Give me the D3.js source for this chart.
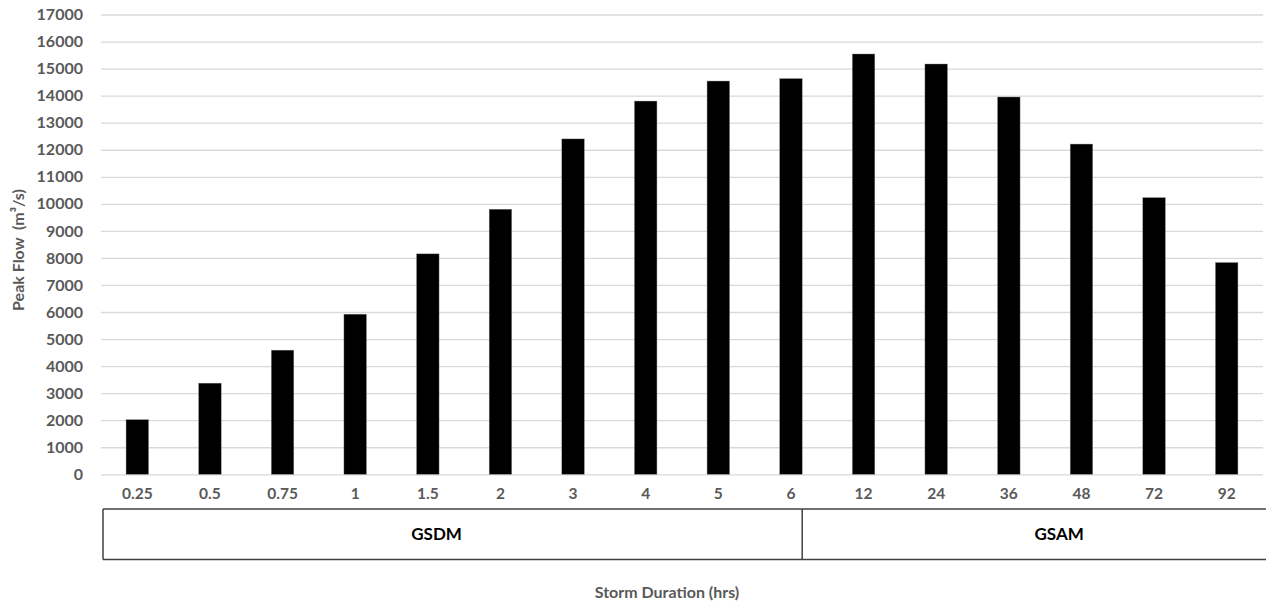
<!DOCTYPE html>
<html>
<head>
<meta charset="utf-8">
<script src="https://cdn.jsdelivr.net/npm/d3@7/dist/d3.min.js"></script>
<style>
  html, body { margin: 0; padding: 0; background: #fff; }
  svg { display: block; }
  text { font-family: Lato, "Open Sans", sans-serif; }
</style>
</head>
<body>
<svg id="chart" width="1266" height="601"></svg>
<script>
// ---- data ----
const categories = ["0.25","0.5","0.75","1","1.5","2","3","4","5","6","12","24","36","48","72","92"];
const peakFlow   = [2020, 3370, 4590, 5920, 8150, 9800, 12400, 13800, 14540, 14630, 15540, 15170, 13950, 12210, 10230, 7830];
const yTicks     = [0,1000,2000,3000,4000,5000,6000,7000,8000,9000,10000,11000,12000,13000,14000,15000,16000,17000];
const groupNames = ["GSDM", "GSAM"];
const groupFirst = ["0.25", "12"];
const groupLast  = ["6", "92"];
const xTitle = "Storm Duration (hrs)";
const yTitle = "Peak Flow  (m³/s)";

// ---- layout ----
const W = 1266, H = 601;
const plotLeft = 101, plotRight = 1263, plotTop = 14.5, plotBottom = 474.3;
const boxTop = 509, boxBottom = 559.5, boxLeft = 103;

const svg = d3.select("#chart");

const x = d3.scaleBand()
  .domain(categories)
  .range([plotLeft, plotRight])
  .paddingInner(0.69)
  .paddingOuter(0.345);

const y = d3.scaleLinear().domain([0, 17000]).range([plotBottom, plotTop]);

// gridlines + y labels via axis
const yAxis = d3.axisLeft(y).tickValues(yTicks).tickSize(-(plotRight - plotLeft)).tickPadding(18).tickFormat(d3.format("d"));
const gy = svg.append("g").attr("transform", `translate(${plotLeft},0)`).call(yAxis);
gy.select(".domain").remove();
gy.selectAll(".tick line").attr("stroke", "#d9d9d9").attr("stroke-width", 1.3);
gy.selectAll(".tick text")
  .attr("fill", "#595959")
  .style("font-size", "16px")
  .style("font-weight", "bold")
  .style("font-family", "Lato, sans-serif");

// bars
svg.append("g").selectAll("rect")
  .data(categories.map((c, i) => ({ c, v: peakFlow[i] })))
  .join("rect")
  .attr("x", d => x(d.c))
  .attr("width", x.bandwidth())
  .attr("y", d => y(d.v))
  .attr("height", d => y(0) - y(d.v))
  .attr("fill", "#000")
  .attr("stroke", "#888")
  .attr("stroke-width", 0.4);

// x labels
const xAxis = d3.axisBottom(x).tickSize(0).tickPadding(14);
const gx = svg.append("g").attr("transform", `translate(0,${plotBottom})`).call(xAxis);
gx.select(".domain").remove();
gx.selectAll(".tick text")
  .attr("fill", "#595959")
  .style("font-size", "15.5px")
  .style("font-weight", "bold")
  .style("font-family", "Lato, sans-serif");

// group box
const boxG = svg.append("g").attr("stroke", "#404040").attr("stroke-width", 1.5).attr("fill", "none");
boxG.append("line").attr("x1", boxLeft).attr("x2", W).attr("y1", boxTop).attr("y2", boxTop);
boxG.append("line").attr("x1", boxLeft).attr("x2", W).attr("y1", boxBottom).attr("y2", boxBottom);
boxG.append("line").attr("x1", boxLeft).attr("x2", boxLeft).attr("y1", boxTop).attr("y2", boxBottom);
const dividers = groupLast.slice(0, -1).map(c => x(c) + x.bandwidth());
boxG.selectAll(".div").data(dividers).join("line")
  .attr("x1", d => d).attr("x2", d => d).attr("y1", boxTop).attr("y2", boxBottom);

// group labels
const groupCenters = groupNames.map((g, i) => {
  if (i === 0) return (boxLeft + dividers[0]) / 2 - 16;
  return (x(groupFirst[i]) + x(groupLast[i]) + x.bandwidth()) / 2 + 14;
});
svg.append("g").selectAll("text").data(groupNames).join("text")
  .attr("x", (d, i) => groupCenters[i])
  .attr("y", (boxTop + boxBottom) / 2)
  .attr("dy", "0.35em")
  .attr("text-anchor", "middle")
  .attr("fill", "#000")
  .style("font-size", "17px")
  .style("font-weight", "bold")
  .text(d => d);

// axis titles
svg.append("text")
  .attr("x", 667)
  .attr("y", 592)
  .attr("dy", "0.35em")
  .attr("text-anchor", "middle")
  .attr("fill", "#595959")
  .style("font-size", "16px")
  .style("font-weight", "bold")
  .text(xTitle);

svg.append("text")
  .attr("transform", `translate(18,250) rotate(-90)`)
  .attr("dy", "0.35em")
  .attr("text-anchor", "middle")
  .attr("fill", "#595959")
  .attr("xml:space", "preserve")
  .style("white-space", "pre")
  .style("font-size", "16px")
  .style("font-weight", "bold")
  .text(yTitle);
</script>
</body>
</html>
